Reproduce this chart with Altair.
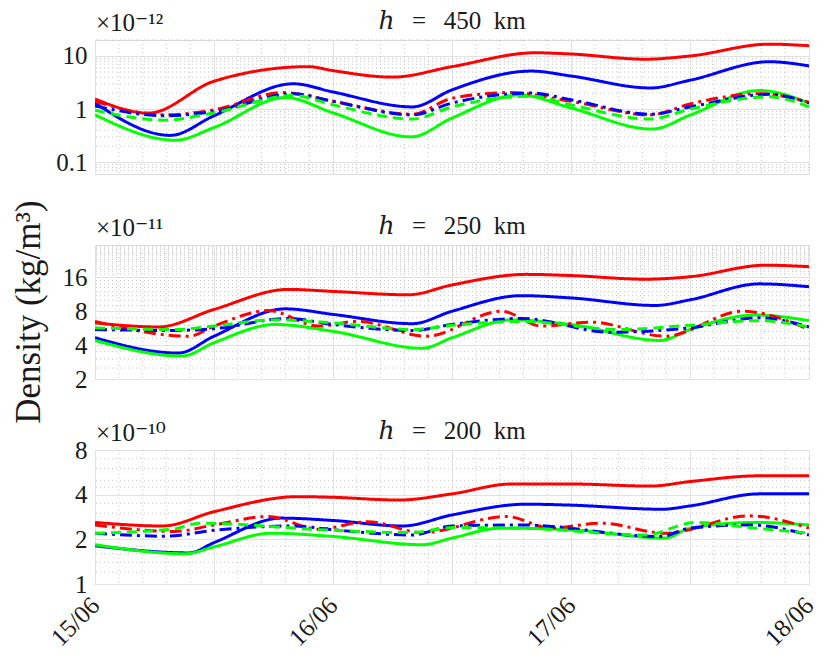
import altair as alt
import pandas as pd

FONT = "Liberation Serif, DejaVu Serif, serif"
INK = "#1a1a1a"

# ---------------- x axis (hours after 15/06 00:00) ----------------
x_major = [0, 12, 24, 36, 48, 60, 72]
x_day_ticks = [0, 24, 48, 72]
x_day_labels = ["15/06", "16/06", "17/06", "18/06"]
x_minor = [round(2.4 * i, 1) for i in range(1, 30) if i % 5]

# ---------------- series styles ----------------
series_names = ["red solid", "blue solid", "green solid", "red dashdot", "blue dashdot", "green dashed"]
series_colors = ["#ff0000", "#0000ff", "#00ff00", "#ff0000", "#0000ff", "#00ff00"]
series_dash = [[1, 0], [1, 0], [1, 0], [12, 5, 3, 5], [12, 5, 3, 5], [10, 6]]

# ---------------- h = 450 km  (x 1e-12 kg/m^3) ----------------
h450_red_t = [0, 5.4, 12, 21.5, 24, 30, 36, 44.4, 48, 55.5, 60, 68, 72]
h450_red_v = [1.55, 0.84, 3.35, 6.3, 5.3, 4.0, 6.3, 11.5, 10.9, 8.7, 10, 16.7, 15.6]
h450_blue_t = [0, 7.6, 12, 20, 24, 32, 36, 44, 48, 56, 60, 68, 72]
h450_blue_v = [1.3, 0.32, 0.75, 3.0, 2.1, 1.1, 2.3, 5.2, 4.2, 2.5, 3.5, 7.8, 6.5]
h450_green_t = [0, 8.1, 12, 19.2, 24, 31.9, 36, 42.8, 48, 56.2, 60, 67, 72]
h450_green_v = [0.78, 0.26, 0.45, 1.65, 0.85, 0.3, 0.68, 1.85, 1.05, 0.42, 0.77, 2.24, 1.3]
h450_red_dd_t = [0, 7, 12, 19, 24, 32, 36, 42, 48, 56, 60, 67, 72]
h450_red_dd_v = [1.4, 0.78, 0.97, 2.05, 1.4, 0.8, 1.6, 2.05, 1.4, 0.78, 1.25, 1.95, 1.35]
h450_blue_dd_t = [0, 7, 12, 20, 24, 32, 36, 44, 48, 56, 60, 68, 72]
h450_blue_dd_v = [1.15, 0.75, 0.9, 1.95, 1.4, 0.78, 1.3, 2.0, 1.5, 0.8, 1.1, 1.9, 1.3]
h450_green_ds_t = [0, 7, 12, 20, 24, 32, 36, 44, 48, 56, 60, 68, 72]
h450_green_ds_v = [0.95, 0.62, 0.85, 1.8, 1.2, 0.65, 1.1, 1.75, 1.2, 0.65, 1.0, 1.7, 1.1]

# ---------------- h = 250 km  (x 1e-11 kg/m^3) ----------------
h250_red_t = [0, 6.4, 12, 19.5, 24, 31.6, 36, 43.5, 48, 55.5, 60, 67.6, 72]
h250_red_v = [6.3, 5.8, 8.3, 12.5, 12, 11.2, 13.7, 17, 16.6, 15.4, 16.2, 20.5, 19.9]
h250_blue_t = [0, 8.4, 12, 19.2, 24, 32, 36, 43, 48, 56.5, 60, 67, 72]
h250_blue_v = [4.65, 3.4, 4.8, 8.4, 7.5, 6.2, 8.0, 11, 10.5, 9.0, 10.1, 14, 13.2]
h250_green_t = [0, 8.8, 12, 18.2, 24, 33, 36, 42, 48, 57, 60, 66.6, 72]
h250_green_v = [4.4, 3.2, 4.2, 6.1, 5.3, 3.75, 4.65, 6.7, 6.1, 4.4, 5.5, 7.4, 6.6]
h250_red_dd_t = [0, 9.5, 12, 17.5, 22.5, 26.5, 33.4, 41, 45, 50, 57.5, 65.3, 72]
h250_red_dd_v = [6.5, 4.8, 5.9, 8.1, 5.9, 6.5, 4.8, 8.0, 5.9, 6.4, 4.8, 8.0, 5.5]
h250_blue_dd_t = [0, 8, 12, 19.5, 24, 32, 36, 43, 52, 60, 67, 72]
h250_blue_dd_v = [5.5, 5.4, 5.6, 6.9, 6.1, 5.4, 6.1, 6.9, 5.2, 5.7, 7.0, 5.8]
h250_green_ds_t = [0, 8, 12, 18, 24, 32, 36, 43, 53, 60, 67, 72]
h250_green_ds_v = [5.7, 5.5, 5.9, 6.7, 6.3, 5.5, 6.0, 6.5, 5.5, 6.0, 6.6, 5.8]

# ---------------- h = 200 km  (x 1e-10 kg/m^3) ----------------
h200_red_t = [0, 6.8, 12, 20.5, 24, 30.6, 36, 42, 48, 56, 60, 67, 72]
h200_red_v = [2.6, 2.46, 3.07, 3.88, 3.84, 3.68, 4.05, 4.72, 4.72, 4.57, 4.9, 5.36, 5.36]
h200_blue_t = [0, 9.5, 12, 18.8, 24, 31, 36, 43.5, 48, 57.2, 60, 67, 72]
h200_blue_v = [1.81, 1.62, 1.9, 2.78, 2.68, 2.46, 2.92, 3.45, 3.4, 3.19, 3.36, 4.05, 4.05]
h200_green_t = [0, 9.1, 12, 17.8, 24, 33, 36, 41, 48, 57.5, 60, 66.6, 72]
h200_green_v = [1.84, 1.6, 1.78, 2.2, 2.09, 1.84, 2.04, 2.38, 2.32, 2.04, 2.38, 2.6, 2.5]
h200_red_dd_t = [0, 8, 12, 17.5, 22.5, 27.5, 33, 41.5, 46, 51, 57.5, 66, 72]
h200_red_dd_v = [2.5, 2.26, 2.5, 2.85, 2.34, 2.63, 2.22, 2.85, 2.38, 2.57, 2.2, 2.88, 2.38]
h200_blue_dd_t = [0, 7, 12, 20, 24, 32, 36, 43, 57, 60, 66, 72]
h200_blue_dd_v = [2.2, 2.1, 2.3, 2.46, 2.32, 2.14, 2.46, 2.5, 2.09, 2.38, 2.5, 2.14]
h200_green_ds_t = [0, 8, 10.5, 24, 32, 36, 43, 55.5, 60.5, 66, 72]
h200_green_ds_v = [2.2, 2.35, 2.57, 2.3, 2.22, 2.4, 2.38, 2.14, 2.6, 2.4, 2.2]

# ---------------- y axes ----------------
h450_domain = [0.06, 20]
h450_major = [0.1, 1, 10]
h450_minor = [0.07, 0.08, 0.09, 0.2, 0.3, 0.4, 0.5, 0.6, 0.7, 0.8, 0.9,
              2, 3, 4, 5, 6, 7, 8, 9, 20]
h250_domain = [2, 31]
h250_major = [2, 4, 8, 16]
h250_minor = [2.5, 3, 3.5, 4.6, 5.3, 6, 7, 9, 10, 11, 12, 13, 14, 15,
              17, 18, 19, 20, 21, 22, 23, 24, 25, 26, 27, 28, 29, 30]
h200_domain = [1, 8]
h200_major = [1, 2, 4, 8]
h200_minor = [1.2, 1.4, 1.6, 1.8, 2.5, 3, 3.5, 4.5, 5, 6, 7]

y_label = "Density (kg/m\u00b3)"

panels = [
    ("\u210e\u2002\u2009=\u2002\u2009450\u2002km", "\u00d710\u207b\u00b9\u00b2",
     h450_domain, h450_major, h450_minor,
     [(h450_red_t, h450_red_v), (h450_blue_t, h450_blue_v), (h450_green_t, h450_green_v),
      (h450_red_dd_t, h450_red_dd_v), (h450_blue_dd_t, h450_blue_dd_v), (h450_green_ds_t, h450_green_ds_v)]),
    ("\u210e\u2002\u2009=\u2002\u2009250\u2002km", "\u00d710\u207b\u00b9\u00b9",
     h250_domain, h250_major, h250_minor,
     [(h250_red_t, h250_red_v), (h250_blue_t, h250_blue_v), (h250_green_t, h250_green_v),
      (h250_red_dd_t, h250_red_dd_v), (h250_blue_dd_t, h250_blue_dd_v), (h250_green_ds_t, h250_green_ds_v)]),
    ("\u210e\u2002\u2009=\u2002\u2009200\u2002km", "\u00d710\u207b\u00b9\u2070",
     h200_domain, h200_major, h200_minor,
     [(h200_red_t, h200_red_v), (h200_blue_t, h200_blue_v), (h200_green_t, h200_green_v),
      (h200_red_dd_t, h200_red_dd_v), (h200_blue_dd_t, h200_blue_dd_v), (h200_green_ds_t, h200_green_ds_v)]),
]

label_expr = "''"
for tv, lab in reversed(list(zip(x_day_ticks, x_day_labels))):
    label_expr = f"datum.value == {tv} ? '{lab}' : ({label_expr})"

W, H = 714, 134


def make_panel(title, exp, domain, major, minor, data, show_x, show_ylabel):
    rows = []
    for name, (ts, vs) in zip(series_names, data):
        for t, v in zip(ts, vs):
            rows.append({"series": name, "t": t, "v": v})
    df = pd.DataFrame(rows)

    x_axis = alt.Axis(values=x_major, grid=True, gridColor="#e2e2e2", gridWidth=1,
                      ticks=False, domain=False, title=None, labels=show_x,
                      labelExpr=label_expr, labelAngle=-45, labelAlign="right",
                      labelBaseline="middle", labelPadding=17, labelOffset=0,
                      labelFont=FONT, labelFontSize=25, labelColor=INK,
                      labelOverlap=False, labelFlush=False)
    y_axis = alt.Axis(values=major, grid=True, gridColor="#e2e2e2", gridWidth=1,
                      ticks=False, domain=False, labelFont=FONT, labelFontSize=25,
                      labelColor=INK, labelPadding=8, labelOverlap=False,
                      labelFlush=False, format="~g", title=None)
    xs = alt.Scale(domain=[0, 72], nice=False, zero=False)
    ys = alt.Scale(type="log", domain=domain, nice=False)

    vgrid = alt.Chart(pd.DataFrame({"t": x_minor})).mark_rule(
        color="#b8b8b8", strokeDash=[1, 3], strokeWidth=0.8
    ).encode(x=alt.X("t:Q", scale=xs, axis=x_axis))
    hgrid = alt.Chart(pd.DataFrame({"v": minor})).mark_rule(
        color="#b8b8b8", strokeDash=[1, 3], strokeWidth=0.8
    ).encode(y=alt.Y("v:Q", scale=ys, axis=y_axis))
    lines = alt.Chart(df).mark_line(strokeWidth=3, interpolate="monotone", clip=True).encode(
        x=alt.X("t:Q", scale=xs, axis=x_axis),
        y=alt.Y("v:Q", scale=ys, axis=y_axis),
        color=alt.Color("series:N", scale=alt.Scale(domain=series_names, range=series_colors), legend=None),
        strokeDash=alt.StrokeDash("series:N", scale=alt.Scale(domain=series_names, range=series_dash), legend=None),
        detail="series:N",
    )
    ttl = alt.Chart(pd.DataFrame({"label": [title]})).mark_text(
        font=FONT, fontSize=25, color=INK, align="center", baseline="alphabetic"
    ).encode(x=alt.value(W / 2), y=alt.value(-11), text="label:N")
    expo = alt.Chart(pd.DataFrame({"label": [exp]})).mark_text(
        font=FONT, fontSize=25, color=INK, align="left", baseline="alphabetic"
    ).encode(x=alt.value(1), y=alt.value(-9), text="label:N")
    layers = [vgrid, hgrid, lines, ttl, expo]
    if show_ylabel:
        ylab = alt.Chart(pd.DataFrame({"label": [y_label]})).mark_text(
            angle=270, font=FONT, fontSize=35, color=INK, align="center", baseline="middle"
        ).encode(x=alt.value(-66), y=alt.value(H / 2), text="label:N")
        layers.append(ylab)
    return alt.layer(*layers).properties(width=W, height=H)


n = len(panels)
charts = [make_panel(*p, i == n - 1, i == 1) for i, p in enumerate(panels)]

chart = alt.vconcat(*charts, spacing=71, bounds="flush").properties(
    padding={"left": 3, "top": 0, "right": 0, "bottom": 0},
).configure_view(stroke="#262626", strokeWidth=1).configure(background="white")

chart.save("out.html", embed_options={"renderer": "svg", "actions": False})
